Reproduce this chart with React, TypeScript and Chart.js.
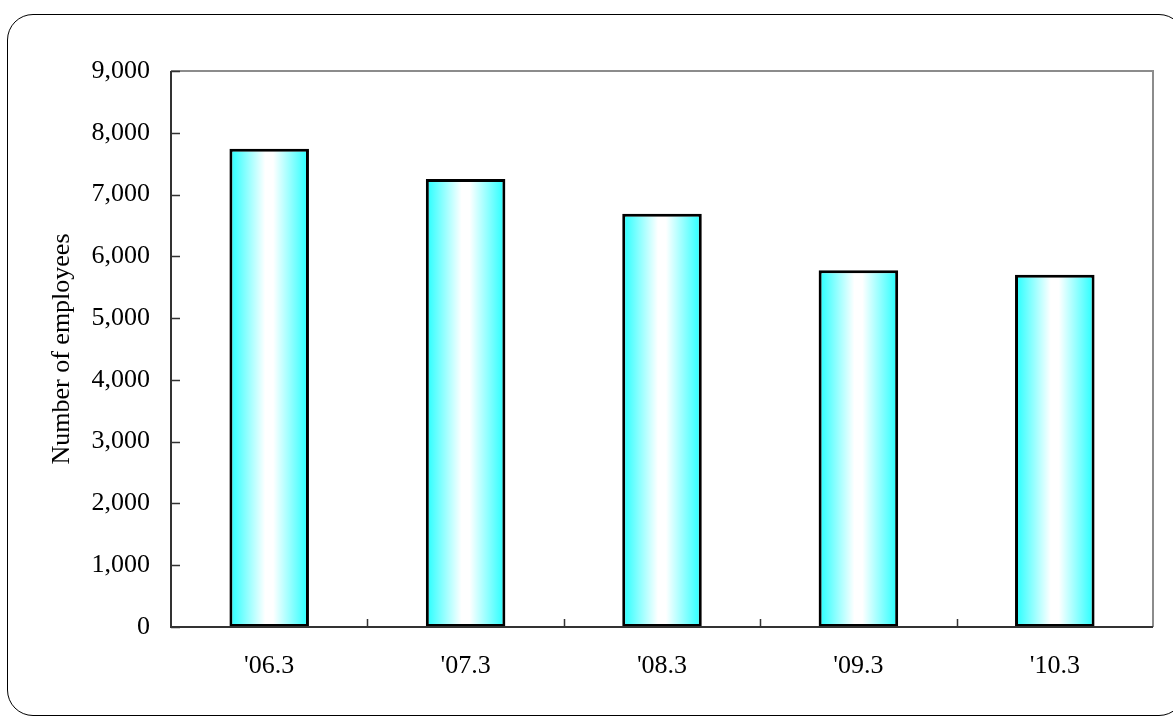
import React, { useEffect, useRef } from "react";
import { Chart, registerables } from "chart.js";

Chart.register(...registerables);

const categories = ["'06.3", "'07.3", "'08.3", "'09.3", "'10.3"];
const employees = [7740, 7250, 6690, 5775, 5700];
const yTicks = [0, 1000, 2000, 3000, 4000, 5000, 6000, 7000, 8000, 9000];
const yTitle = "Number of employees";

const FONT = "'Liberation Serif', 'Times New Roman', serif";

const framePlugin = {
  id: "frame",
  afterDatasetsDraw(chart: any) {
    const { ctx, chartArea } = chart;
    const { left, right, top, bottom } = chartArea;
    const y = chart.scales.y;
    const x = chart.scales.x;
    ctx.save();
    ctx.strokeStyle = "#8c8c8c";
    ctx.lineWidth = 2;
    ctx.beginPath();
    ctx.moveTo(left, top);
    ctx.lineTo(right, top);
    ctx.lineTo(right, bottom);
    ctx.stroke();
    ctx.strokeStyle = "#333";
    ctx.lineWidth = 2;
    ctx.beginPath();
    ctx.moveTo(left, top);
    ctx.lineTo(left, bottom);
    ctx.lineTo(right, bottom);
    ctx.stroke();
    ctx.lineWidth = 1.5;
    ctx.beginPath();
    for (const v of yTicks) {
      const py = Math.round(y.getPixelForValue(v)) + 0.5;
      ctx.moveTo(left, py);
      ctx.lineTo(left + 9, py);
    }
    const n = categories.length;
    for (let i = 1; i < n; i++) {
      const px = Math.round((x.getPixelForValue(i - 1) + x.getPixelForValue(i)) / 2) + 0.5;
      ctx.moveTo(px, bottom);
      ctx.lineTo(px, bottom - 8);
    }
    ctx.stroke();
    ctx.restore();
  },
};

export default function App() {
  const ref = useRef<HTMLCanvasElement>(null);
  useEffect(() => {
    if (!ref.current) return;
    const chart = new Chart(ref.current, {
      type: "bar",
      data: {
        labels: categories,
        datasets: [
          {
            data: employees,
            borderColor: "#000",
            borderWidth: 3,
            borderSkipped: false,
            categoryPercentage: 1,
            barPercentage: 0.405,
            backgroundColor: (c: any) => {
              const chart = c.chart;
              const xs = chart.scales.x;
              if (!xs || !chart.chartArea || c.dataIndex === undefined) return "#33ffff";
              const cx = xs.getPixelForValue(c.dataIndex);
              const w = (chart.chartArea.right - chart.chartArea.left) / categories.length * 0.405;
              const g = chart.ctx.createLinearGradient(cx - w / 2, 0, cx + w / 2, 0);
              g.addColorStop(0, "#22ffff");
              g.addColorStop(0.45, "#ffffff");
              g.addColorStop(0.55, "#ffffff");
              g.addColorStop(1, "#22ffff");
              return g;
            },
          },
        ],
      },
      options: {
        responsive: false,
        animation: false,
        layout: { padding: { left: 40, right: 20, top: 71, bottom: 0 } },
        plugins: { legend: { display: false }, tooltip: { enabled: false } },
        scales: {
          x: {
            grid: { display: false, drawTicks: false },
            border: { display: false },
            ticks: { color: "#000", font: { family: FONT, size: 26 }, padding: 24 },
            afterFit: (s: any) => {
              s.height = 89;
            },
          },
          y: {
            min: 0,
            max: 9000,
            grid: { display: false, drawTicks: false },
            border: { display: false },
            afterBuildTicks: (s: any) => {
              s.ticks = yTicks.map((v) => ({ value: v }));
            },
            ticks: {
              color: "#000",
              font: { family: FONT, size: 26 },
              padding: 21,
              callback: (v: any) => Number(v).toLocaleString("en-US"),
            },
            title: {
              display: true,
              text: yTitle,
              color: "#000",
              font: { family: FONT, size: 26 },
              padding: { top: 7, bottom: 0 },
            },
            afterFit: (s: any) => {
              s.width = 131;
            },
          },
        },
      },
      plugins: [framePlugin],
    });
    return () => chart.destroy();
  }, []);
  return (
    <div
      style={{
        position: "fixed",
        left: 0,
        top: 0,
        width: 1173,
        height: 716,
        overflow: "hidden",
        background: "#fff",
      }}
    >
      <div
        style={{
          position: "absolute",
          left: 7,
          top: 14,
          width: 1178,
          height: 702,
          border: "1.5px solid #000",
          borderRadius: 26,
          boxSizing: "border-box",
        }}
      />
      <canvas
        ref={ref}
        width={1173}
        height={716}
        style={{ position: "absolute", left: 0, top: 0, width: 1173, height: 716 }}
      />
    </div>
  );
}
